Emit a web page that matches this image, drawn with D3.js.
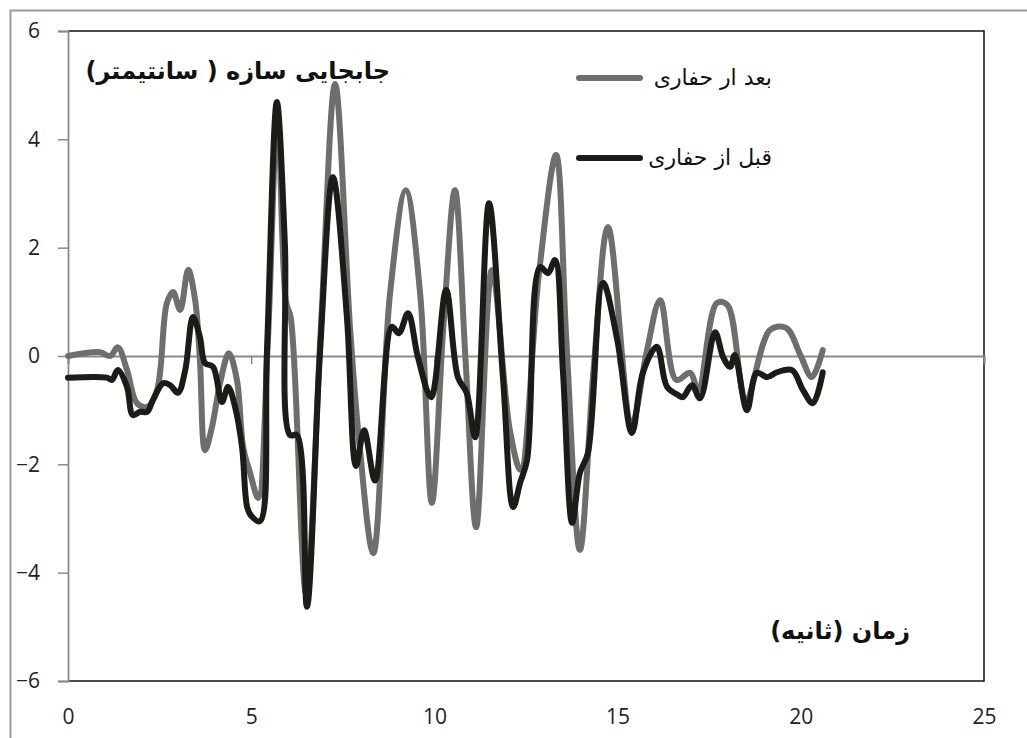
<!DOCTYPE html>
<html>
<head>
<meta charset="utf-8">
<script src="https://cdn.jsdelivr.net/npm/d3@7"></script>
<style>
  body { margin: 0; background: #fff; }
  .tick text { font-family: "Open Sans", sans-serif; font-size: 21px; fill: #222; }
</style>
</head>
<body>
<div id="chart"></div>
<script>
// time (s) and displacement (cm)
var afterT = [0, 0.87, 1.15, 1.36, 1.61, 1.88, 2.16, 2.43, 2.7, 2.87, 3.06, 3.28, 3.47, 3.6, 3.74, 3.93, 4.15, 4.39, 4.61, 4.78, 4.97, 5.19,
  5.45, 5.72, 5.95, 6.08, 6.5, 6.9, 7.29, 7.7, 7.95, 8.33, 8.79, 9.22, 9.61, 9.93, 10.25, 10.56, 10.85, 11.14, 11.57, 12.06, 12.35,
  12.85, 13.32, 13.6, 13.97, 14.35, 14.74, 15.39, 15.8, 16.16, 16.6, 16.98, 17.2, 17.71, 18.0, 18.5, 19.16, 19.6, 20.0, 20.3, 20.6];
var afterV = [0, 0.07, 0, 0.16, -0.26, -0.87, -0.94, -0.63, 0.98, 1.18, 0.85, 1.59, 1.03, -0.07, -1.74, -1.31, -0.5, 0.05, -0.44, -1.68, -2.16, -2.62,
  0.2, 4.45, 1.0, 0.7, -4.4, 0.5, 5.02, 0.5, -1.6, -3.64, 1.16, 3.06, 1.16, -2.71, 0.6, 3.06, -0.07, -3.16, 1.59, -1.37, -2.1,
  1.5, 3.71, 0.3, -3.58, -0.2, 2.38, -1.24, 0.1, 1.03, -0.44, -0.31, -0.63, 0.98, 0.94, -0.8, 0.48, 0.52, 0, -0.39, 0.11];

var beforeT = [0, 1.06, 1.2, 1.36, 1.61, 1.77, 1.97, 2.16, 2.32, 2.6, 2.79, 3.0, 3.2, 3.41, 3.6, 3.74, 3.96, 4.2, 4.37, 4.56, 4.75, 4.89, 5.0, 5.24,
  5.43, 5.7, 5.92, 6.06, 6.25, 6.52, 6.88, 7.23, 7.61, 7.86, 8.08, 8.38, 8.84, 9.03, 9.28, 9.55, 9.91, 10.32, 10.64, 10.88, 11.11, 11.49,
  11.87, 12.15, 12.34, 12.53, 12.88, 13.1, 13.29, 13.51, 13.76, 13.97, 14.19, 14.6, 14.99, 15.39, 15.69, 16.07, 16.35, 16.65, 16.78, 17.03,
  17.25, 17.66, 17.88, 18.07, 18.2, 18.53, 18.8, 19.08, 19.35, 19.76, 20.06, 20.33, 20.6];
var beforeV = [-0.4, -0.4, -0.44, -0.26, -0.57, -1.09, -1.03, -1.03, -0.81, -0.5, -0.54, -0.68, -0.26, 0.72, 0.35, -0.13, -0.2, -0.85, -0.57, -0.94, -1.68, -2.79, -2.95, -3.05,
  0.09, 4.69, 2.05, -1.46, -1.46, -4.63, 0.09, 3.3, 0.74, -2.03, -1.37, -2.3, 0.54, 0.42, 0.79, -0.02, -0.76, 1.22, -0.39, -0.68, -1.5, 2.82,
  -0.39, -2.79, -2.34, -1.92, 1.64, 1.53, 1.77, -0.31, -3.08, -2.16, -1.79, 1.35, 0.3, -1.42, -0.31, 0.17, -0.57, -0.72, -0.76, -0.54,
  -0.78, 0.44, -0.02, -0.2, 0.02, -1.0, -0.31, -0.39, -0.3, -0.26, -0.63, -0.87, -0.3];

var xTicks = [0, 5, 10, 15, 20, 25];
var yTicks = [-6, -4, -2, 0, 2, 4, 6];
var seriesNames = ["بعد ار حفاری", "قبل از حفاری"];
var seriesColors = ["#6e6e6e", "#1b1b17"];

var W = 1027, H = 738;
var margin = {top: 31, right: 43, bottom: 57, left: 68};
var width = W - margin.left - margin.right,
    height = H - margin.top - margin.bottom;

var svg = d3.select("#chart").append("svg")
  .attr("width", W).attr("height", H);

svg.append("rect").attr("width", W).attr("height", H).attr("fill", "#fff");

// outer frame
svg.append("path")
  .attr("d", "M10.5," + (H + 5) + "V10.5H" + (W + 5))
  .attr("fill", "none").attr("stroke", "#9a9a9a").attr("stroke-width", 2);

var g = svg.append("g").attr("transform", "translate(" + margin.left + "," + margin.top + ")");

var x = d3.scaleLinear().domain([0, 25]).range([0, width]);
var y = d3.scaleLinear().domain([-6, 6]).range([height, 0]);

// plot border (top, right, bottom)
g.append("path")
  .attr("d", "M0,0H" + width + "V" + height + "H0")
  .attr("fill", "none").attr("stroke", "#111").attr("stroke-width", 1.5);

// y axis
var yAxis = g.append("g")
  .call(d3.axisLeft(y).tickValues(yTicks).tickSize(10).tickPadding(18));
yAxis.select(".domain").attr("stroke", "#8a8a8a").attr("stroke-width", 1.8);
yAxis.selectAll(".tick line").attr("stroke", "#8a8a8a").attr("stroke-width", 1.5);

// horizontal axis crosses at 0, labels at the bottom
var xAxis = g.append("g")
  .attr("transform", "translate(0," + y(0) + ")")
  .call(d3.axisBottom(x).tickValues(xTicks).tickSize(8).tickFormat(""));
xAxis.select(".domain").attr("stroke", "#8a8a8a").attr("stroke-width", 2);
xAxis.selectAll(".tick line").attr("stroke", "#8a8a8a").attr("stroke-width", 1.5);

var xLabels = g.append("g")
  .attr("transform", "translate(0," + height + ")")
  .call(d3.axisBottom(x).tickValues(xTicks).tickSize(0).tickPadding(28));
xLabels.select(".domain").remove();

var line = d3.line()
  .x(function(d) { return x(d[0]); })
  .y(function(d) { return y(d[1]); })
  .curve(d3.curveCatmullRom.alpha(0.5));

var series = [d3.zip(afterT, afterV), d3.zip(beforeT, beforeV)];

g.selectAll(".series")
  .data(series)
  .enter()
  .append("path")
  .attr("class", "series")
  .attr("d", line)
  .attr("fill", "none")
  .attr("stroke", function(d, i) { return seriesColors[i]; })
  .attr("stroke-width", 6)
  .attr("stroke-linejoin", "round")
  .attr("stroke-linecap", "round");

// legend
var legend = svg.selectAll(".legend")
  .data(seriesNames)
  .enter()
  .append("g")
  .attr("class", "legend")
  .attr("transform", function(d, i) { return "translate(0," + (78 + i * 80) + ")"; });

legend.append("line")
  .attr("x1", 579).attr("x2", 640)
  .attr("stroke", function(d, i) { return seriesColors[i]; })
  .attr("stroke-width", 6)
  .attr("stroke-linecap", "round");

legend.append("text")
  .attr("x", 772).attr("y", 0).attr("dy", "0.3em")
  .attr("text-anchor", "end")
  .style("font-family", "'DejaVu Sans', sans-serif")
  .style("font-size", "22px")
  .style("fill", "#111")
  .text(function(d) { return d; });

// titles
svg.append("text")
  .attr("x", 390).attr("y", 72).attr("dy", "0.3em")
  .attr("text-anchor", "end")
  .style("font-family", "'DejaVu Sans', sans-serif")
  .style("font-weight", "bold")
  .style("font-size", "24px")
  .style("fill", "#111")
  .text("جابجایی سازه ( سانتیمتر)");

svg.append("text")
  .attr("x", 910).attr("y", 632).attr("dy", "0.3em")
  .attr("text-anchor", "end")
  .style("font-family", "'DejaVu Sans', sans-serif")
  .style("font-weight", "bold")
  .style("font-size", "24px")
  .style("fill", "#111")
  .text("زمان (ثانیه)");
</script>
</body>
</html>
